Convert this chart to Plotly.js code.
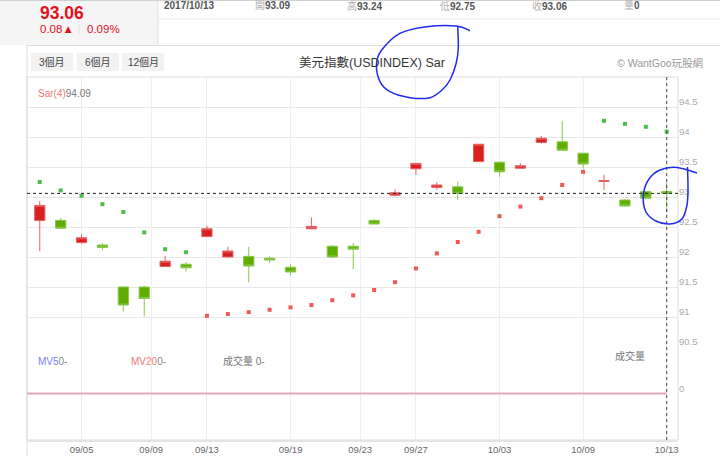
<!DOCTYPE html>
<html><head><meta charset="utf-8">
<script src="https://cdn.plot.ly/plotly-3.0.1.min.js"></script>
<style>html,body{margin:0;padding:0;background:#fff;overflow:hidden}#chart{width:720px;height:456px}</style>
</head><body><div id="chart"></div>
<script>
// ---------- data ----------
const dates = ["2017-09-01","2017-09-04","2017-09-05","2017-09-06","2017-09-07","2017-09-08",
  "2017-09-11","2017-09-12","2017-09-13","2017-09-14","2017-09-15",
  "2017-09-18","2017-09-19","2017-09-20","2017-09-21","2017-09-22",
  "2017-09-25","2017-09-26","2017-09-27","2017-09-28","2017-09-29",
  "2017-10-02","2017-10-03","2017-10-04","2017-10-05","2017-10-06",
  "2017-10-09","2017-10-10","2017-10-11","2017-10-12","2017-10-13"];
const open  = [92.61,92.61,92.24,92.20,91.50,91.50,91.84,91.88,92.34,92.00,92.01,91.98,91.83,92.47,92.18,92.18,92.61,93.03,93.47,93.16,93.17,93.59,93.58,93.48,93.91,93.92,93.73,93.26,92.95,93.09,93.09];
const high  = [92.93,92.65,92.38,92.23,91.51,91.52,92.02,91.92,92.52,92.17,92.17,92.01,91.88,92.66,92.20,92.23,92.63,93.13,93.56,93.25,93.26,93.88,93.58,93.56,94.02,94.27,93.73,93.37,92.96,93.10,93.24];
const low   = [92.10,92.48,92.22,92.11,91.09,91.01,91.84,91.76,92.34,91.98,91.58,91.90,91.69,92.47,91.98,91.80,92.55,93.01,93.37,93.12,92.95,93.59,93.34,93.48,93.89,93.77,93.48,93.12,92.84,92.96,92.75];
const close = [92.86,92.48,92.32,92.16,91.20,91.31,91.93,91.82,92.47,92.10,91.85,91.95,91.75,92.51,92.00,92.13,92.55,93.07,93.56,93.20,93.06,93.88,93.42,93.52,93.98,93.78,93.55,93.27,92.85,92.98,93.06];
const sar   = [93.25,93.11,93.02,92.88,92.75,92.41,92.13,92.08,91.02,91.05,91.08,91.12,91.16,91.20,91.28,91.36,91.45,91.58,91.81,92.06,92.25,92.42,92.68,92.84,92.98,93.20,93.42,94.27,94.22,94.17,94.09];
const volume = [0,0,0,0,0,0,0,0,0,0,0,0,0,0,0,0,0,0,0,0,0,0,0,0,0,0,0,0,0,0,0];
const volMA5 = 0, volMA20 = 0, volLast = 0;
const xTickDates  = ["2017-09-05","2017-09-09","2017-09-13","2017-09-19","2017-09-23","2017-09-27","2017-10-03","2017-10-09","2017-10-13"];
const xTickLabels = ["09/05","09/09","09/13","09/19","09/23","09/27","10/03","10/09","10/13"];
const yTicks = [90.5,91,91.5,92,92.5,93,93.5,94,94.5];

// ---------- helpers ----------
const n = dates.length - 1;
const idx = dates.map((d,i)=>i);
const tms = dates.map(d=>Date.parse(d));
function ordinalPos(d){
  const v = Date.parse(d);
  for(let i=0;i<tms.length-1;i++){
    if(v>=tms[i] && v<=tms[i+1]) return i + (v-tms[i])/(tms[i+1]-tms[i]);
  }
  return v<=tms[0]?0:n;
}
const L=27,R=678,T=77,B=440;
const px = x => (x-L)/(R-L);
const py = y => (B-y)/(B-T);
const FONT = "Liberation Sans, Arial, Noto Sans CJK TC, sans-serif";
const RED = '#e3101e';

const chg = close[n]-close[n-1];
const pct = chg/close[n-1]*100;
const dLast = dates[n].replace(/-/g,'/');

function ann(text,x,y,size,color,anchor,extra){
  return Object.assign({text:text,xref:'paper',yref:'paper',x:px(x),y:py(y),xanchor:anchor||'left',yanchor:'middle',
    showarrow:false,font:{family:FONT,size:size,color:color}},extra||{});
}
function smoothPath(pts){
  const P = pts.map(p=>[px(p[0]),py(p[1])]);
  let d = 'M'+P[0][0]+','+P[0][1];
  for(let i=0;i<P.length-1;i++){
    const p0=P[Math.max(0,i-1)],p1=P[i],p2=P[i+1],p3=P[Math.min(P.length-1,i+2)];
    const c1=[p1[0]+(p2[0]-p0[0])/6,p1[1]+(p2[1]-p0[1])/6];
    const c2=[p2[0]-(p3[0]-p1[0])/6,p2[1]-(p3[1]-p1[1])/6];
    d+=' C'+c1[0]+','+c1[1]+' '+c2[0]+','+c2[1]+' '+p2[0]+','+p2[1];
  }
  return d;
}

// ---------- traces ----------
const traces = [
  {type:'candlestick', x:idx, open:open, high:high, low:low, close:close, xaxis:'x', yaxis:'y',
   increasing:{line:{color:'#e46060',width:1},fillcolor:'#d81f1f'},
   decreasing:{line:{color:'#86c84a',width:1},fillcolor:'#5ead00'},
   whiskerwidth:0, hoverinfo:'skip'},
  {type:'scatter', mode:'markers', x:idx, y:sar, xaxis:'x', yaxis:'y',
   marker:{size:4, symbol:'square', color:sar.map((s,i)=> s>close[i] ? '#4cbc4c' : '#f25757')}, hoverinfo:'skip'},
  {type:'bar', x:idx, y:volume, xaxis:'x', yaxis:'y2', marker:{color:'#999'}, hoverinfo:'skip'}
];

// ---------- layout ----------
const shapes = [
  // header block
  {type:'rect',xref:'paper',yref:'paper',x0:px(0),x1:px(158),y0:py(45),y1:py(0),fillcolor:'#f5f5f5',line:{width:0},layer:'below'},
  {type:'line',xref:'paper',yref:'paper',x0:px(0),x1:px(720),y0:py(0.5),y1:py(0.5),line:{color:'#d0d0d0',width:1}},
  {type:'line',xref:'paper',yref:'paper',x0:px(158),x1:px(158),y0:py(0),y1:py(45),line:{color:'#dddddd',width:1}},
  {type:'line',xref:'paper',yref:'paper',x0:px(158),x1:px(720),y0:py(19),y1:py(19),line:{color:'#eeeeee',width:1}},
  {type:'line',xref:'paper',yref:'paper',x0:px(27),x1:px(720),y0:py(45.5),y1:py(45.5),line:{color:'#dddddd',width:1}},
  {type:'line',xref:'paper',yref:'paper',x0:px(27),x1:px(27),y0:py(456),y1:py(45),line:{color:'#dddddd',width:1}},
  {type:'line',xref:'paper',yref:'paper',x0:px(79),x1:px(79),y0:py(25),y1:py(34),line:{color:'#e0e0e0',width:1}},
  // buttons
  {type:'rect',xref:'paper',yref:'paper',x0:px(31),x1:px(73),y0:py(71),y1:py(53),fillcolor:'#f2f2f2',line:{width:0}},
  {type:'rect',xref:'paper',yref:'paper',x0:px(77),x1:px(119),y0:py(71),y1:py(53),fillcolor:'#f2f2f2',line:{width:0}},
  {type:'rect',xref:'paper',yref:'paper',x0:px(122),x1:px(164),y0:py(71),y1:py(53),fillcolor:'#f2f2f2',line:{width:0}},
  // plot frame
  {type:'rect',xref:'paper',yref:'paper',x0:0,x1:1,y0:0,y1:1,line:{color:'#dddddd',width:1},layer:'below'},
  // volume MA line
  {type:'line',xref:'x',yref:'y2',x0:-1,x1:n,y0:volMA20,y1:volMA20,line:{color:'#e2a6bd',width:2}},
  // crosshair
  {type:'line',xref:'paper',yref:'y',x0:0,x1:1,y0:close[n],y1:close[n],line:{color:'#222',width:1,dash:'3px,3px'}},
  {type:'line',xref:'x',yref:'paper',x0:n,x1:n,y0:0,y1:1,line:{color:'#444',width:1,dash:'3px,3px'}},
  // hand-drawn blue circles
  {type:'path',xref:'paper',yref:'paper',line:{color:'#1f2bf0',width:1.5},
   path:smoothPath([[470,30.7],[456.7,26],[426.7,26.7],[400,33.3],[381.7,50],[376.5,64],[380,81.7],[390,91.7],[410,97.7],[430,97.7],[442,90],[450,80],[456,64],[458.3,48],[457.7,26]])},
  {type:'path',xref:'paper',yref:'paper',line:{color:'#1f2bf0',width:1.5},
   path:smoothPath([[697,173],[677,167.5],[660,170],[648.3,180],[643.3,196],[646,212],[656,221],[670,224],[682,219],[687,205],[688,188],[687.5,167]])}
];

const annotations = [
  ann(`<b>${close[n].toFixed(2)}</b>`,38,13,17.5,RED),
  ann(`${chg.toFixed(2)}▲`,38,29.5,11.5,RED),
  ann(`${pct.toFixed(2)}%`,85,29.5,11.5,RED),
  ann(`<b>${dLast}</b>`,162,6,10,'#555'),
  ann(`<span style="color:#b0b0b0">開</span><b>${open[n].toFixed(2)}</b>`,253,6,10,'#555'),
  ann(`<span style="color:#b0b0b0">高</span><b>${high[n].toFixed(2)}</b>`,345,6,10,'#555'),
  ann(`<span style="color:#b0b0b0">低</span><b>${low[n].toFixed(2)}</b>`,438,6,10,'#555'),
  ann(`<span style="color:#b0b0b0">收</span><b>${close[n].toFixed(2)}</b>`,530,6,10,'#555'),
  ann(`<span style="color:#b0b0b0">量</span><b>${volLast}</b>`,622,6,10,'#555'),
  ann('3個月',52,62,10,'#444','center'),
  ann('6個月',98,62,10,'#444','center'),
  ann('12個月',143,62,10,'#444','center'),
  ann('美元指數(USDINDEX) Sar',371.5,63,12.5,'#333','center'),
  ann('© WantGoo玩股網',659.5,63,10.5,'#999','center'),
  ann(`<span style="color:#f07a7a">Sar(4)</span><span style="color:#777">${sar[n].toFixed(2)}</span>`,36,93,10,'#777'),
  ann(`<span style="color:#7d7dff">MV5</span><span style="color:#888">${volMA5}-</span>`,36,361,10,'#888'),
  ann(`<span style="color:#f07a7a">MV20</span><span style="color:#888">${volMA20}-</span>`,129,361,10,'#888'),
  ann(`成交量 ${volLast}-`,221,361,10,'#777'),
  ann('成交量',613,356,10,'#777')
];

const layout = {
  width:720, height:456,
  margin:{l:L, r:720-R, t:T, b:456-B, pad:0},
  paper_bgcolor:'#fff', plot_bgcolor:'#fff',
  showlegend:false, hovermode:false, dragmode:false,
  font:{family:FONT},
  xaxis:{anchor:'y2', range:[-0.61,30.54], rangeslider:{visible:false},
    tickmode:'array', tickvals:xTickDates.map(ordinalPos), ticktext:xTickLabels,
    showgrid:true, gridcolor:'#eeeeee', gridwidth:1, zeroline:false,
    showline:true, linecolor:'#e3e3e3', linewidth:2, ticks:'',
    tickfont:{family:FONT,size:9.5,color:'#666'}},
  yaxis:{domain:[py(347),1], range:[90.5,95], side:'right',
    tickmode:'array', tickvals:yTicks, ticktext:yTicks.map(String),
    showgrid:true, gridcolor:'#e8e8e8', gridwidth:1, zeroline:false, showline:false, ticks:'',
    ticklabelshift:-5, tickfont:{family:FONT,size:9.5,color:'#aaa'}},
  yaxis2:{domain:[0,py(347)], range:[-1,1], side:'right',
    tickmode:'array', tickvals:[0], ticktext:['0'],
    showgrid:false, zeroline:false, showline:false, ticks:'',
    ticklabelshift:-5, tickfont:{family:FONT,size:9.5,color:'#aaa'}},
  shapes:shapes, annotations:annotations
};

Plotly.newPlot('chart', traces, layout, {staticPlot:true, displayModeBar:false});
</script></body></html>
